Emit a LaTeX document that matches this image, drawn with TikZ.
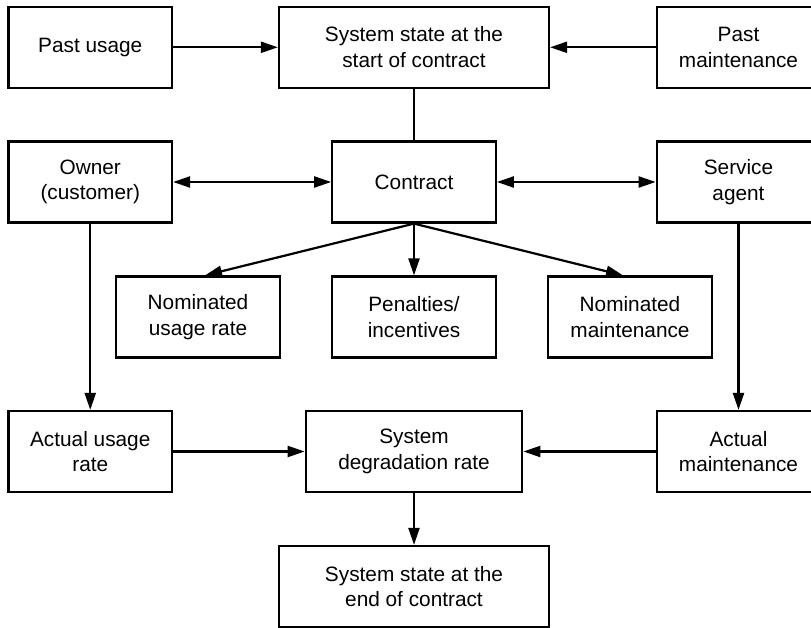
\documentclass[tikz,border=0pt]{standalone}
\usepackage{fontspec}
\setmainfont{Liberation Sans}
\usetikzlibrary{arrows.meta}

\tikzset{
  box/.style={draw, line width=2.2pt, rectangle, align=center, inner sep=0pt,
    minimum height=81pt, font=\fontsize{20.8}{25.5}\selectfont},
  narrow/.style={box, minimum width=163.5pt},
  wide/.style={box, minimum width=270pt},
  mid/.style={box, minimum width=216.6pt},
  link/.style={line width=2.2pt},
  tip/.style={Triangle[length=17pt,width=11pt]},
  flow/.style={link, -{Triangle[length=17pt,width=11pt]}},
  both/.style={link, {Triangle[length=17pt,width=11pt]}-{Triangle[length=17pt,width=11pt]}}
}

\begin{document}
\begin{tikzpicture}[x=1pt,y=-1pt]
  \useasboundingbox (0,0) rectangle (811,628);
  \clip (0,0) rectangle (811,628);

  % top row: history feeding the initial system state
  \node[narrow] (pu) at (90.25,47.3)  {Past usage};
  \node[wide]   (ss) at (414,47.3)    {System state at the\\start of contract};
  \node[narrow] (pm) at (738.5,47.3)  {Past\\maintenance};

  % parties and the contract
  \node[narrow] (ow) at (90.25,182)   {Owner\\(customer)};
  \node[narrow] (co) at (414,182)     {Contract};
  \node[narrow] (sa) at (738.5,182)   {Service\\agent};

  % terms fixed by the contract
  \node[narrow] (nu) at (198,317)     {Nominated\\usage rate};
  \node[narrow] (pi) at (414,317)     {Penalties/\\incentives};
  \node[narrow] (nm) at (630,317)     {Nominated\\maintenance};

  % what actually happens
  \node[narrow] (au) at (90.25,451.5) {Actual usage\\rate};
  \node[mid]    (dr) at (414,451.5)   {System\\degradation rate};
  \node[narrow] (am) at (738.5,451.5) {Actual\\maintenance};

  % outcome
  \node[wide]   (se) at (414,586.5)   {System state at the\\end of contract};

  % connectors
  \draw[flow] (pu) -- (ss);
  \draw[flow] (pm) -- (ss);
  \draw[link] (ss) -- (co);
  \draw[both] (ow) -- (co);
  \draw[both] (co) -- (sa);
  \draw[flow] (co.south) -- ([xshift=7pt]nu.north);
  \draw[flow] (co.south) -- (pi.north);
  \draw[flow] (co.south) -- ([xshift=-7pt]nm.north);
  \draw[flow] (ow) -- (au);
  \draw[flow] (sa) -- (am);
  \draw[flow] (au) -- (dr);
  \draw[flow] (am) -- (dr);
  \draw[flow] (dr) -- (se);
\end{tikzpicture}
\end{document}
